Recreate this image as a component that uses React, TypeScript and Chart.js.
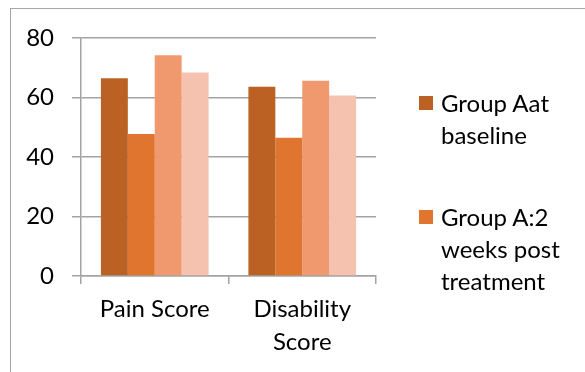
import React, { useEffect, useRef } from "react";
import { Chart, registerables } from "chart.js";

Chart.register(...registerables);

const categories: (string | string[])[] = ["Pain Score", ["Disability", "Score"]];
const seriesLabels = [
  "Group Aat baseline",
  "Group A:2 weeks post treatment",
  "Group B at baseline",
  "Group B:2 weeks post treatment",
];
const groupABaseline = [66.5, 63.6];
const groupAPost = [47.7, 46.5];
const groupBBaseline = [74.2, 65.6];
const groupBPost = [68.4, 60.7];
const seriesColors = ["#BA6123", "#DF752F", "#F0996F", "#F5C2AF"];
const yTicks = [0, 20, 40, 60, 80];
const legendShown = 2;

const FONT = "Lato, 'Open Sans', sans-serif";
const GRID = "#A3A3A3";

export default function App() {
  const canvasRef = useRef<HTMLCanvasElement | null>(null);

  useEffect(() => {
    if (!canvasRef.current) return;
    const seriesValues = [groupABaseline, groupAPost, groupBBaseline, groupBPost];
    const chart = new Chart(canvasRef.current, {
      type: "bar",
      data: {
        labels: categories as any,
        datasets: seriesValues.map((vals, i) => ({
          label: seriesLabels[i],
          data: vals,
          backgroundColor: seriesColors[i],
          borderWidth: 0,
          barPercentage: 1,
          categoryPercentage: 0.73,
        })),
      },
      options: {
        animation: false,
        responsive: true,
        maintainAspectRatio: false,
        layout: { padding: { left: 0, right: 209, top: 38, bottom: 0 } },
        plugins: { legend: { display: false }, tooltip: { enabled: false } },
        scales: {
          x: {
            offset: true,
            grid: {
              offset: true,
              drawOnChartArea: false,
              drawTicks: true,
              tickLength: 8,
              color: GRID,
              lineWidth: 1.5,
            },
            border: { display: true, color: GRID, width: 1.5 },
            ticks: {
              color: "#000",
              padding: 9,
              maxRotation: 0,
              autoSkip: false,
              font: { family: FONT, size: 24, lineHeight: 1.375 },
            },
            afterFit: (scale: any) => {
              scale.height = 96;
            },
          },
          y: {
            min: 0,
            max: 80,
            afterBuildTicks: (scale: any) => {
              scale.ticks = yTicks.map((v) => ({ value: v }));
            },
            grid: {
              drawTicks: true,
              tickLength: 9,
              color: GRID,
              lineWidth: 1.5,
            },
            border: { display: true, color: GRID, width: 1.5 },
            ticks: {
              color: "#000",
              padding: 18,
              font: { family: FONT, size: 24 },
            },
            afterFit: (scale: any) => {
              scale.width = 81;
            },
          },
        },
      },
    });
    return () => chart.destroy();
  }, []);

  return (
    <div
      style={{
        position: "fixed",
        left: 0,
        top: 0,
        width: 585,
        height: 372,
        background: "#fff",
        overflow: "hidden",
      }}
    >
      <div
        style={{
          position: "absolute",
          left: 10,
          top: 8,
          width: 700,
          height: 500,
          borderTop: "1.5px solid #A6A6A6",
          borderLeft: "1.5px solid #A6A6A6",
        }}
      />
      <div style={{ position: "absolute", left: 0, top: 0, width: 585, height: 372 }}>
        <canvas ref={canvasRef} />
      </div>
      <div
        style={{
          position: "absolute",
          left: 419,
          top: 87,
          width: 166,
          fontFamily: FONT,
          fontSize: 24,
          lineHeight: "32px",
          color: "#000",
        }}
      >
        {seriesLabels.slice(0, legendShown).map((lab, i) => (
          <div key={i} style={{ display: "flex", alignItems: "flex-start", marginBottom: i === 0 ? 50 : 0 }}>
            <div
              style={{
                width: 14,
                height: 14,
                background: seriesColors[i],
                marginTop: 9,
                flex: "0 0 auto",
              }}
            />
            <div style={{ marginLeft: 8, width: 132 }}>{lab}</div>
          </div>
        ))}
      </div>
    </div>
  );
}
